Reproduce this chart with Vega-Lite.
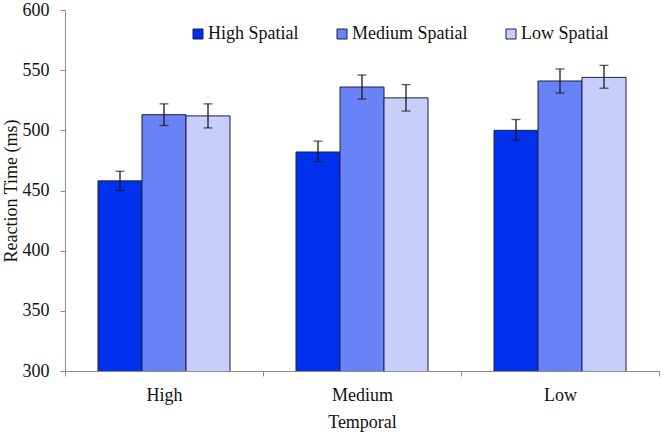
{
  "$schema": "https://vega.github.io/schema/vega-lite/v6.json",
  "width": 594,
  "height": 361,
  "autosize": "none",
  "padding": {"left": 65, "top": 10, "right": 5, "bottom": 65},
  "background": "white",
  "config": {
    "view": {"stroke": null},
    "font": "'Liberation Serif', 'DejaVu Serif', serif",
    "text": {"font": "'Liberation Serif', 'DejaVu Serif', serif"},
    "axis": {"labelFont": "'Liberation Serif', 'DejaVu Serif', serif", "titleFont": "'Liberation Serif', 'DejaVu Serif', serif", "labelColor": "#111", "titleColor": "#111", "titleFontWeight": "normal", "domainColor": "#8c8c8c", "tickColor": "#8c8c8c"},
    "legend": {"labelFont": "'Liberation Serif', 'DejaVu Serif', serif"}
  },
  "data": {
    "values": [
      {"temporal": "High", "spatial": "High Spatial", "rt": 458, "lo": 450, "hi": 466},
      {"temporal": "High", "spatial": "Medium Spatial", "rt": 513, "lo": 504, "hi": 522},
      {"temporal": "High", "spatial": "Low Spatial", "rt": 512, "lo": 502, "hi": 522},
      {"temporal": "Medium", "spatial": "High Spatial", "rt": 482, "lo": 474, "hi": 491},
      {"temporal": "Medium", "spatial": "Medium Spatial", "rt": 536, "lo": 526, "hi": 546},
      {"temporal": "Medium", "spatial": "Low Spatial", "rt": 527, "lo": 516, "hi": 538},
      {"temporal": "Low", "spatial": "High Spatial", "rt": 500, "lo": 492, "hi": 509},
      {"temporal": "Low", "spatial": "Medium Spatial", "rt": 541, "lo": 531, "hi": 551},
      {"temporal": "Low", "spatial": "Low Spatial", "rt": 544, "lo": 535, "hi": 554}
    ]
  },
  "encoding": {
    "x": {
      "field": "temporal", "type": "nominal", "sort": ["High", "Medium", "Low"],
      "scale": {"paddingInner": 0, "paddingOuter": 0},
      "axis": {"title": "Temporal", "labelAngle": 0, "labelFontSize": 18, "titleFontSize": 18, "tickBand": "extent", "tickSize": 5, "labelPadding": 10, "titlePadding": 9}
    },
    "xOffset": {
      "field": "spatial", "type": "nominal", "sort": ["High Spatial", "Medium Spatial", "Low Spatial"],
      "scale": {"paddingInner": 0, "paddingOuter": 0.75}
    }
  },
  "layer": [
    {
      "mark": {"type": "bar", "stroke": "#1b2148", "strokeWidth": 1, "clip": true},
      "encoding": {
        "y": {
          "field": "rt", "type": "quantitative",
          "scale": {"domain": [300, 600], "nice": false, "zero": false},
          "axis": {"title": "Reaction Time (ms)", "values": [300, 350, 400, 450, 500, 550, 600], "grid": false, "labelFontSize": 18, "titleFontSize": 18, "tickSize": 5, "labelPadding": 11, "titlePadding": 2}
        },
        "color": {
          "field": "spatial", "type": "nominal", "sort": ["High Spatial", "Medium Spatial", "Low Spatial"],
          "scale": {"domain": ["High Spatial", "Medium Spatial", "Low Spatial"], "range": ["#0231ee", "#6982f6", "#c8cefa"]},
          "legend": {"title": null, "orient": "none", "legendX": 124, "legendY": 15, "direction": "horizontal", "symbolType": "square", "symbolSize": 100, "symbolStrokeColor": "#1b2148", "symbolStrokeWidth": 1, "symbolOpacity": 1, "labelFontSize": 18, "labelColor": "#111", "labelOffset": 1, "columnPadding": 34}
        }
      }
    },
    {
      "mark": {"type": "rule", "color": "#1a1a1a", "strokeWidth": 1.3},
      "encoding": {
        "y": {"field": "lo", "type": "quantitative"},
        "y2": {"field": "hi"}
      }
    },
    {
      "mark": {"type": "tick", "color": "#1a1a1a", "thickness": 1.3, "size": 9, "orient": "horizontal"},
      "encoding": {"y": {"field": "lo", "type": "quantitative"}}
    },
    {
      "mark": {"type": "tick", "color": "#1a1a1a", "thickness": 1.3, "size": 9, "orient": "horizontal"},
      "encoding": {"y": {"field": "hi", "type": "quantitative"}}
    }
  ]
}
